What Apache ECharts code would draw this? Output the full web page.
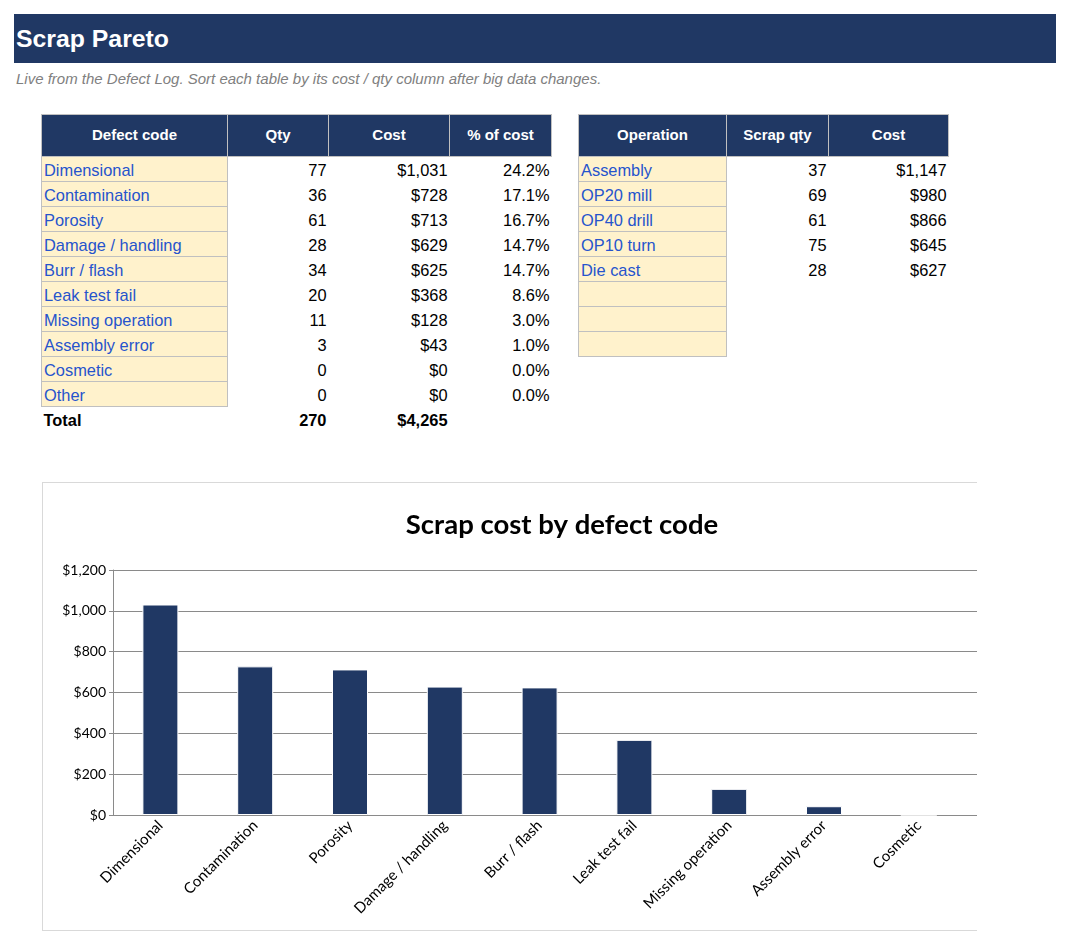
<!DOCTYPE html>
<html>
<head>
<meta charset="utf-8">
<script src="https://cdn.jsdelivr.net/npm/echarts@6/dist/echarts.min.js"></script>
<style>
  html, body { margin: 0; padding: 0; background: #fff; }
  body { width: 1070px; height: 944px; position: relative; overflow: hidden; font-family: "Liberation Sans", Arial, sans-serif; }
  #titlebar { position: absolute; left: 14px; top: 14px; width: 1042px; height: 49px; background: #203864; color: #fff;
    font-weight: bold; font-size: 24.8px; line-height: 49px; box-sizing: border-box; padding-left: 2px; }
  #subtitle { position: absolute; left: 16px; top: 69px; font-size: 15px; font-style: italic; color: #808080; line-height: 20px; }
  table.sheet { position: absolute; border-collapse: collapse; table-layout: fixed; font-size: 16.4px; }
  table.sheet th { background: #203864; color: #fff; font-weight: bold; font-size: 15px; height: 41px; padding: 0;
    border: 1px solid #c0c0c0; text-align: center; }
  table.sheet th + th { border-left: 1px solid #d8dce6; }
  table.sheet th span { position: relative; top: -1px; }
  table.sheet td { height: 24px; padding: 0; line-height: 24px; white-space: nowrap; overflow: visible; }
  table.sheet td span { position: relative; top: 1px; }
  td.code { background: #fff2cc; color: #2654cc; border: 1px solid #c0c0c0; border-top: none; padding-left: 2px !important; }
  td.num { text-align: right; padding-right: 2px !important; color: #000; }
  tr.total td { font-weight: bold; color: #000; }
  tr.total td.lbl { padding-left: 2px; }
  #chartwrap { position: absolute; left: 42px; top: 482px; width: 934px; height: 447px; overflow: hidden;
    border-top: 1px solid #d9d9d9; border-left: 1px solid #d9d9d9; border-bottom: 1px solid #d9d9d9; }
  #chart { position: absolute; left: 0; top: 0; width: 1038px; height: 447px; }
</style>
</head>
<body>
<div id="titlebar">Scrap Pareto</div>
<div id="subtitle">Live from the Defect Log. Sort each table by its cost / qty column after big data changes.</div>
<table class="sheet" id="t1" style="left:41px; top:114px; width:510px;"></table>
<table class="sheet" id="t2" style="left:578px; top:114px; width:370px;"></table>
<div id="chartwrap"><div id="chart"></div></div>

<script>
// ---- Data ----
const defectCodes = ["Dimensional", "Contamination", "Porosity", "Damage / handling", "Burr / flash",
  "Leak test fail", "Missing operation", "Assembly error", "Cosmetic", "Other"];
const defectQty = [77, 36, 61, 28, 34, 20, 11, 3, 0, 0];
const defectCost = [1031, 728, 713, 629, 625, 368, 128, 43, 0, 0];
const defectPct = [24.2, 17.1, 16.7, 14.7, 14.7, 8.6, 3.0, 1.0, 0.0, 0.0];
const totalQty = 270;
const totalCost = 4265;

const operations = ["Assembly", "OP20 mill", "OP40 drill", "OP10 turn", "Die cast", "", "", ""];
const opQty = [37, 69, 61, 75, 28];
const opCost = [1147, 980, 866, 645, 627];

const table1Headers = ["Defect code", "Qty", "Cost", "% of cost"];
const table2Headers = ["Operation", "Scrap qty", "Cost"];
const chartTitle = "Scrap cost by defect code";
const yTicks = [0, 200, 400, 600, 800, 1000, 1200];

// ---- Helpers ----
function money(v) { return "$" + v.toLocaleString("en-US"); }
function sp(t) { return "<span>" + t + "</span>"; }

// ---- Table 1 ----
(function () {
  const widths = [186, 101, 121, 102];
  let h = "<colgroup>" + widths.map(w => '<col style="width:' + w + 'px">').join("") + "</colgroup>";
  h += "<tr>" + table1Headers.map(t => "<th>" + sp(t) + "</th>").join("") + "</tr>";
  for (let i = 0; i < defectCodes.length; i++) {
    h += '<tr><td class="code">' + sp(defectCodes[i]) + '</td><td class="num">' + sp(defectQty[i]) +
      '</td><td class="num">' + sp(money(defectCost[i])) + '</td><td class="num">' + sp(defectPct[i].toFixed(1) + '%') + '</td></tr>';
  }
  h += '<tr class="total"><td class="lbl">' + sp("Total") + '</td><td class="num">' + sp(totalQty) + '</td><td class="num">' +
    sp(money(totalCost)) + '</td><td></td></tr>';
  document.getElementById("t1").innerHTML = h;
})();

// ---- Table 2 ----
(function () {
  const widths = [148, 102, 120];
  let h = "<colgroup>" + widths.map(w => '<col style="width:' + w + 'px">').join("") + "</colgroup>";
  h += "<tr>" + table2Headers.map(t => "<th>" + sp(t) + "</th>").join("") + "</tr>";
  for (let i = 0; i < operations.length; i++) {
    const q = i < opQty.length ? opQty[i] : "";
    const c = i < opCost.length ? money(opCost[i]) : "";
    h += '<tr><td class="code">' + sp(operations[i] || "&nbsp;") + '</td><td class="num">' + sp(q) +
      '</td><td class="num">' + sp(c) + '</td></tr>';
  }
  document.getElementById("t2").innerHTML = h;
})();

// ---- Chart ----
const chart = echarts.init(document.getElementById("chart"), null, { renderer: "canvas" });
chart.setOption({
  animation: false,
  backgroundColor: "#ffffff",
  title: {
    text: chartTitle,
    left: "center",
    top: 23,
    textStyle: { fontFamily: "Lato", fontWeight: "bold", fontSize: 27.5, color: "#000" }
  },
  grid: { left: 70, top: 87, right: 20, height: 245 },
  xAxis: {
    type: "category",
    data: defectCodes,
    axisLine: { show: true, lineStyle: { color: "#8a8a8a", width: 1 } },
    axisTick: { show: false },
    axisLabel: { interval: 0, rotate: 45, margin: 8, fontFamily: "Lato", fontSize: 15, color: "#000" }
  },
  yAxis: {
    type: "value",
    min: yTicks[0],
    max: yTicks[yTicks.length - 1],
    interval: yTicks[1] - yTicks[0],
    axisLine: { show: true, lineStyle: { color: "#8a8a8a", width: 1 } },
    axisTick: { show: true, length: 4, lineStyle: { color: "#8a8a8a" } },
    splitLine: { show: true, lineStyle: { color: "#8a8a8a", width: 1 } },
    axisLabel: { margin: 7, fontFamily: "Lato", fontSize: 14, color: "#000",
      formatter: v => money(v) }
  },
  series: [{
    type: "bar",
    data: defectCost,
    barWidth: 36,
    itemStyle: { color: "#203864", borderColor: "#ffffff", borderWidth: 1 }
  }]
});
</script>
</body>
</html>
